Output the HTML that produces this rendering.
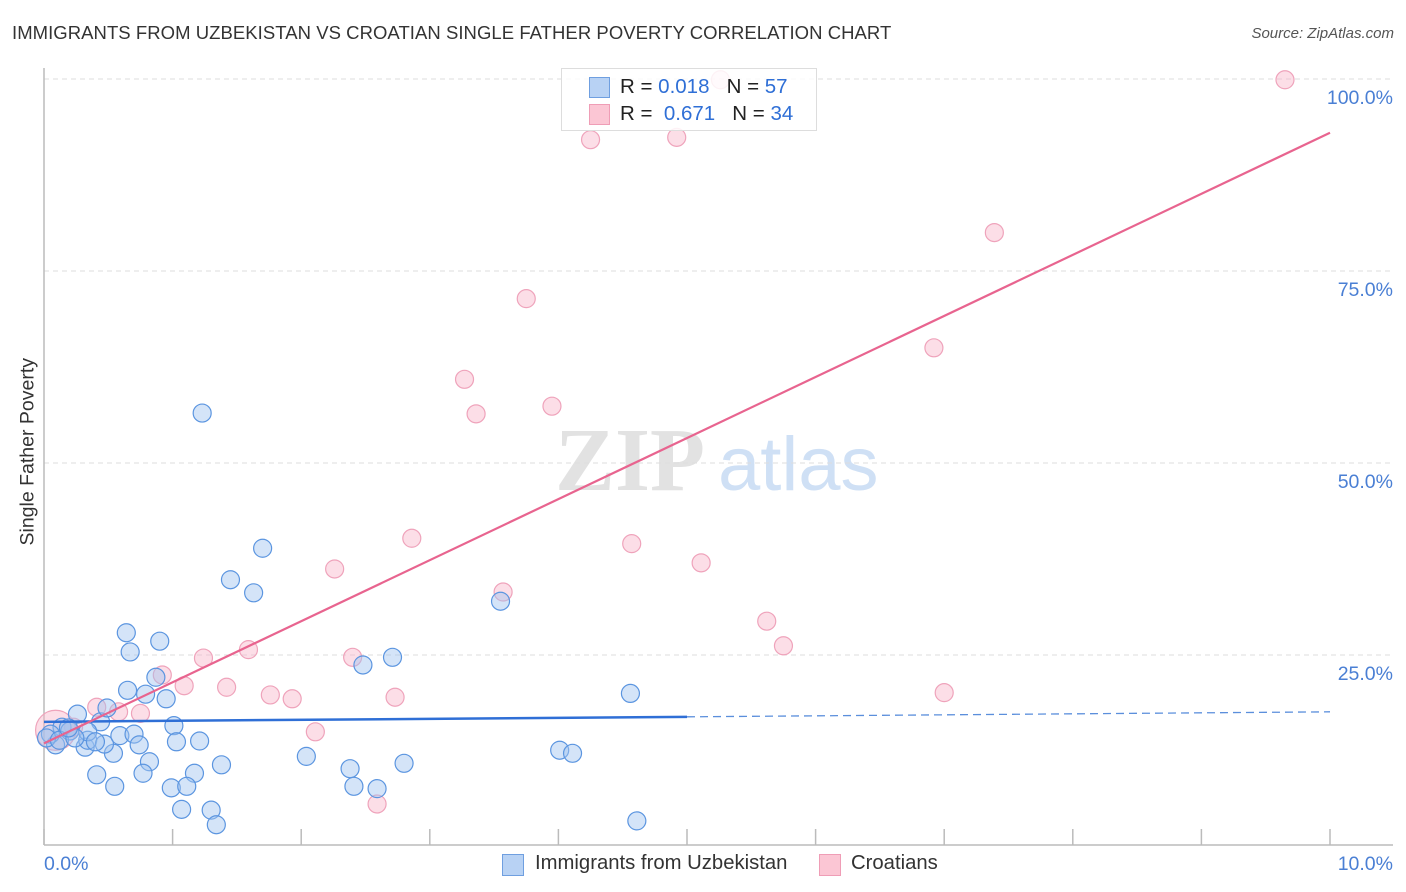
<!DOCTYPE html>
<html><head><meta charset="utf-8"><style>
body{margin:0;background:#fff;font-family:"Liberation Sans",sans-serif;}
#wrap{position:relative;width:1406px;height:892px;overflow:hidden}
.t{position:absolute;white-space:nowrap}
</style></head><body>
<div id="wrap">
<div class="t" style="left:12px;top:22px;font-size:18.5px;color:#333;letter-spacing:0.05px">IMMIGRANTS FROM UZBEKISTAN VS CROATIAN SINGLE FATHER POVERTY CORRELATION CHART</div>
<div class="t" style="right:12px;top:25px;font-size:15px;color:#555;font-style:italic">Source: ZipAtlas.com</div>
<div class="t" style="left:-62px;top:444px;font-size:19.5px;color:#333;transform:rotate(-90deg);width:180px;text-align:center">Single Father Poverty</div>
<svg id="svg" width="1406" height="892" style="position:absolute;left:0;top:0"></svg>
</div>
<script>
const xTicks=[0,1,2,3,4,5,6,7,8,9,10];
const yTicks=[25,50,75,100];
const yTickLabels=["25.0%","50.0%","75.0%","100.0%"];
const blueX=[1.23,1.70,1.45,1.63,0.64,0.90,0.67,0.87,0.65,0.79,0.95,2.48,2.71,3.55,4.56,1.01,0.44,0.49,0.26,0.14,0.09,0.32,0.34,0.54,0.47,0.59,0.70,0.74,1.03,1.21,0.82,0.77,0.41,0.55,1.17,1.38,2.04,0.99,1.11,2.38,2.41,2.80,2.59,1.07,1.30,1.34,4.01,4.11,4.61,0.05,0.20,0.02,0.34,0.12,0.24,0.19,0.40];
const blueY=[56.5,38.9,34.8,33.1,27.9,26.8,25.4,22.1,20.4,19.9,19.3,23.7,24.7,32.0,20.0,15.8,16.3,18.1,17.3,15.6,13.3,13.0,13.9,12.2,13.4,14.5,14.7,13.3,13.7,13.8,11.1,9.6,9.4,7.9,9.6,10.7,11.8,7.7,7.9,10.2,7.9,10.9,7.6,4.9,4.8,2.9,12.6,12.2,3.4,14.7,15.1,14.2,15.0,13.9,14.2,15.5,13.7];
const pinkX=[9.65,5.26,4.25,4.92,7.39,3.75,6.92,3.27,3.36,3.95,2.86,4.57,5.11,2.26,3.57,5.62,5.75,1.59,2.40,1.24,0.92,1.09,1.42,1.76,1.93,2.73,7.00,2.11,2.59,0.75,0.58,0.41,0.23,0.09];
const pinkY=[99.9,99.9,92.1,92.4,80.0,71.4,65.0,60.9,56.4,57.4,40.2,39.5,37.0,36.2,33.2,29.4,26.2,25.7,24.7,24.6,22.4,21.0,20.8,19.8,19.3,19.5,20.1,15.0,5.6,17.4,17.6,18.2,15.6,15.2];
const blueTrend=[16.3,17.6];
const pinkTrend=[13.5,93.0];
const NS="http://www.w3.org/2000/svg";
const svg=document.getElementById('svg');
const X=v=>44+v*128.6, Y=v=>847-v*7.68;
function mk(t,a){const e=document.createElementNS(NS,t);for(const k in a)e.setAttribute(k,a[k]);svg.appendChild(e);return e;}
let w=mk('text',{x:555,y:490,'font-size':90,fill:'#e2e2e2','font-family':'Liberation Serif,serif','font-weight':'bold'});w.textContent='ZIP';


let w2=mk('text',{x:718,y:490,'font-size':76,fill:'#cfe0f5','font-family':'Liberation Sans,sans-serif'});w2.textContent='atlas';


yTicks.forEach((t,i)=>{
 let g=mk('line',{x1:44,x2:1393,y1:Y(t),y2:Y(t),stroke:'#ddd','stroke-dasharray':'5,4'});
 
 
 let l=mk('text',{x:1393,y:Y(t)+25,'text-anchor':'end','font-size':19.5,fill:'#4a7fd4','font-family':'Liberation Sans,sans-serif'});l.textContent=yTickLabels[i];
 
 
});
let ax=mk('line',{x1:44,x2:44,y1:68,y2:845,stroke:'#bbb','stroke-width':1.5});


let bx=mk('line',{x1:44,x2:1393,y1:845,y2:845,stroke:'#bbb','stroke-width':1.5});


xTicks.forEach(t=>{
 let k=mk('line',{x1:X(t),x2:X(t),y1:829,y2:845,stroke:'#bbb','stroke-width':1.5});
 
 
});
let xl0=mk('text',{x:44,y:870,'font-size':19.5,fill:'#4a7fd4','font-family':'Liberation Sans,sans-serif'});xl0.textContent='0.0%';


let xl1=mk('text',{x:1393,y:870,'text-anchor':'end','font-size':19.5,fill:'#4a7fd4','font-family':'Liberation Sans,sans-serif'});xl1.textContent='10.0%';


pinkX.forEach((x,i)=>{
 let c=mk('circle',{cx:X(x),cy:Y(pinkY[i]),r:i===pinkX.length-1?20:9,fill:'rgba(248,182,202,0.45)',stroke:'#efa3bb','stroke-width':1.2});
 
 
});
blueX.forEach((x,i)=>{
 let c=mk('circle',{cx:X(x),cy:Y(blueY[i]),r:9,fill:'rgba(160,196,240,0.45)',stroke:'#5b95e0','stroke-width':1.2});
 
 
});
const bAt=v=>blueTrend[0]+(blueTrend[1]-blueTrend[0])*v/10;
let bt=mk('line',{x1:X(0),y1:Y(bAt(0)),x2:X(5),y2:Y(bAt(5)),stroke:'#2f6fd6','stroke-width':2.5});


let bd=mk('line',{x1:X(5),y1:Y(bAt(5)),x2:X(10),y2:Y(bAt(10)),stroke:'#5b8fdc','stroke-width':1.3,'stroke-dasharray':'8,5'});


let pt=mk('line',{x1:X(0),y1:Y(pinkTrend[0]),x2:X(10),y2:Y(pinkTrend[1]),stroke:'#e8648f','stroke-width':2.2});


</script>
<div style="position:absolute;left:561px;top:68px;width:254px;height:61px;border:1px solid #ddd;background:rgba(255,255,255,0.85);font-size:20.5px;color:#222">
 <div style="position:absolute;left:27px;top:8px;width:19px;height:19px;background:#b8d2f4;border:1px solid #6f9fe0"></div>
 <div class="t" style="left:58px;top:6px">R = <span style="color:#2f6fd6">0.018</span>&nbsp;&nbsp; N = <span style="color:#2f6fd6">57</span></div>
 <div style="position:absolute;left:27px;top:35px;width:19px;height:19px;background:#fbc6d4;border:1px solid #ef9db6"></div>
 <div class="t" style="left:58px;top:33px">R = &nbsp;<span style="color:#2f6fd6">0.671</span>&nbsp;&nbsp; N = <span style="color:#2f6fd6">34</span></div>
</div>
<div style="position:absolute;left:502px;top:852px;font-size:20.3px;color:#333;height:26px">
 <div style="position:absolute;left:0;top:2px;width:20px;height:20px;background:#b8d2f4;border:1px solid #6f9fe0"></div>
 <div class="t" style="left:33px;top:0px">Immigrants from Uzbekistan</div>
 <div style="position:absolute;left:317px;top:2px;width:20px;height:20px;background:#fbc6d4;border:1px solid #ef9db6"></div>
 <div class="t" style="left:349px;top:0px">Croatians</div>
</div>
</body></html>
